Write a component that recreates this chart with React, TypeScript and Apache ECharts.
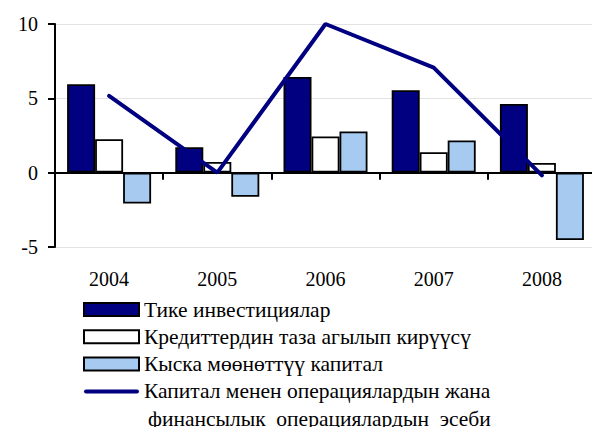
import React, { useEffect, useRef } from "react";
import * as echarts from "echarts";

const years = ["2004", "2005", "2006", "2007", "2008"];
const directInvestment = [5.95, 1.71, 6.44, 5.54, 4.62];
const netLoans = [2.25, 0.72, 2.43, 1.37, 0.65];
const shortTermCapital = [-2.07, -1.62, 2.77, 2.16, -4.53];
const capitalFinancialAccount = [5.16, 0.0, 10.0, 7.07, -0.18];

const names = [
  "Тике инвестициялар",
  "Кредиттердин таза агылып кирүүсү",
  "Кыска мөөнөттүү капитал",
  "Капитал менен операциялардын жана финансылык операциялардын эсеби",
];
const lineFirstRow = "Капитал менен операциялардын жана";
const lineSecondRow = "финансылык  операциялардын  эсеби";

const FONT = "Liberation Serif";

export default function App() {
  const ref = useRef<HTMLDivElement>(null);
  useEffect(() => {
    if (!ref.current) return;
    const chart = echarts.init(ref.current, undefined, { renderer: "svg" });
    const barBorder = { borderColor: "#000", borderWidth: 1.8 };
    chart.setOption({
      animation: false,
      backgroundColor: "#fff",
      grid: { left: 55, right: 4, top: 24, bottom: 188, containLabel: false },
      legend: {
        orient: "vertical",
        left: 83,
        top: 297.5,
        padding: 0,
        itemWidth: 55,
        itemHeight: 13,
        itemGap: 3.3,
        textStyle: { fontFamily: FONT, fontSize: 21.5, color: "#000", lineHeight: 24, padding: [0, 0, 0, 0] },
        data: [
          { name: names[0], icon: "rect" },
          { name: names[1], icon: "rect" },
          { name: names[2], icon: "rect" },
          { name: names[3], icon: "path://M2,0 L53,0 A2,2 0 0 1 53,4 L2,4 A2,2 0 0 1 2,0 Z" },
        ],
        formatter: (n: string) => (n === names[3] ? lineFirstRow : n),
      },
      graphic: [
        {
          type: "text",
          left: 148,
          top: 408,
          style: { text: lineSecondRow, font: `21.5px "${FONT}"`, fill: "#000" },
        },
      ],
      xAxis: [
        {
          type: "category",
          data: years,
          position: "bottom",
          axisLine: { onZero: true, lineStyle: { color: "#000", width: 2 } },
          axisTick: { show: true, length: 7, inside: false, lineStyle: { color: "#000", width: 2 } },
          axisLabel: { show: false },
          splitLine: { show: false },
        },
        {
          type: "category",
          data: years,
          position: "bottom",
          axisLine: { show: false, onZero: false },
          axisTick: { show: false },
          axisLabel: { show: true, margin: 22, fontFamily: FONT, fontSize: 20, color: "#000" },
          splitLine: { show: false },
        },
      ],
      yAxis: {
        type: "value",
        min: -5,
        max: 10,
        interval: 5,
        axisLine: { show: true, lineStyle: { color: "#000", width: 2 } },
        axisTick: { show: true, length: 7, lineStyle: { color: "#000", width: 2 } },
        axisLabel: { margin: 17, fontFamily: FONT, fontSize: 20, color: "#000" },
        splitLine: { show: true, lineStyle: { color: "#e3e3e3", width: 1 } },
      },
      series: [
        {
          name: names[0],
          type: "bar",
          data: directInvestment,
          barWidth: 28,
          barGap: "0%",
          itemStyle: { color: "#000080", ...barBorder },
        },
        {
          name: names[1],
          type: "bar",
          data: netLoans,
          barWidth: 28,
          barGap: "0%",
          itemStyle: { color: "#ffffff", ...barBorder },
        },
        {
          name: names[2],
          type: "bar",
          data: shortTermCapital,
          barWidth: 28,
          barGap: "0%",
          itemStyle: { color: "#a6caf0", ...barBorder },
        },
        {
          name: names[3],
          type: "line",
          data: capitalFinancialAccount,
          symbol: "none",
          z: 5,
          lineStyle: { color: "#000080", width: 4, cap: "round" },
          itemStyle: { color: "#000080", borderWidth: 0 },
        },
      ],
    });
    return () => chart.dispose();
  }, []);
  return <div ref={ref} style={{ width: 600, height: 435, margin: -8 }} />;
}
